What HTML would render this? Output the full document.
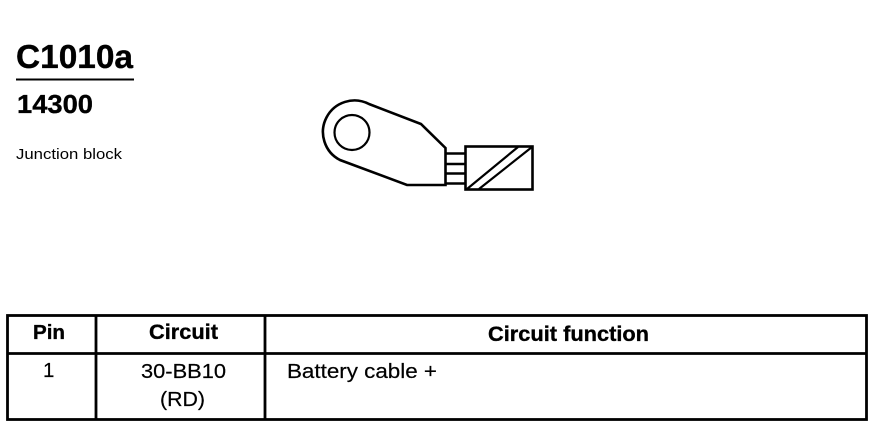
<!DOCTYPE html>
<html><head><meta charset="utf-8"><style>
html,body{margin:0;padding:0;background:#fff;width:878px;height:432px;overflow:hidden}
svg{display:block}
text{font-family:"Liberation Sans",Arial,sans-serif;fill:#000}
.b{font-weight:bold;stroke:#000;stroke-width:.35}
.r{stroke:#000;stroke-width:.2}
</style></head><body>
<svg width="878" height="432" viewBox="0 0 878 432" xmlns="http://www.w3.org/2000/svg">
<text class="b" x="16" y="68" font-size="33" textLength="117" lengthAdjust="spacingAndGlyphs">C1010a</text>
<rect x="16" y="78.5" width="118" height="2" fill="#000"/>
<text class="b" x="17" y="113" font-size="26" textLength="76" lengthAdjust="spacingAndGlyphs">14300</text>
<text x="16" y="159" font-size="15" textLength="106" lengthAdjust="spacingAndGlyphs" fill="#222">Junction block</text>

<g fill="none" stroke="#000" stroke-width="2.6">
<path d="M369 104 L421 124 L445.5 148 L445.5 185 L407 185 L340 160 A30 30 0 1 1 369 104 Z"/>
<circle cx="352" cy="132.5" r="17.5" stroke-width="2.2"/>
<rect x="465.5" y="146.5" width="67" height="43"/>
<path d="M446 153.5H465M446 164H465M446 173.5H465M446 183.5H465"/>
<path d="M467 189L518 147M479 189L532 147" stroke-width="2.2"/>
</g>

<g fill="none" stroke="#000" stroke-width="2.8">
<rect x="7.5" y="315.5" width="859" height="104"/>
<path d="M7 353.5H867M96 315V420M265 315V420"/>
</g>

<text class="b" x="33" y="339" font-size="20.5" textLength="32" lengthAdjust="spacingAndGlyphs">Pin</text>
<text class="b" x="149" y="339" font-size="21" textLength="69" lengthAdjust="spacingAndGlyphs">Circuit</text>
<text class="b" x="488" y="341" font-size="21" textLength="161" lengthAdjust="spacingAndGlyphs">Circuit function</text>
<text class="r" x="43" y="377" font-size="20.5">1</text>
<text class="r" x="141" y="378" font-size="20.5" textLength="85" lengthAdjust="spacingAndGlyphs">30-BB10</text>
<text class="r" x="160" y="406" font-size="20.5" textLength="45" lengthAdjust="spacingAndGlyphs">(RD)</text>
<text class="r" x="287" y="378" font-size="20.5" textLength="150" lengthAdjust="spacingAndGlyphs">Battery cable +</text>
</svg>
</body></html>
